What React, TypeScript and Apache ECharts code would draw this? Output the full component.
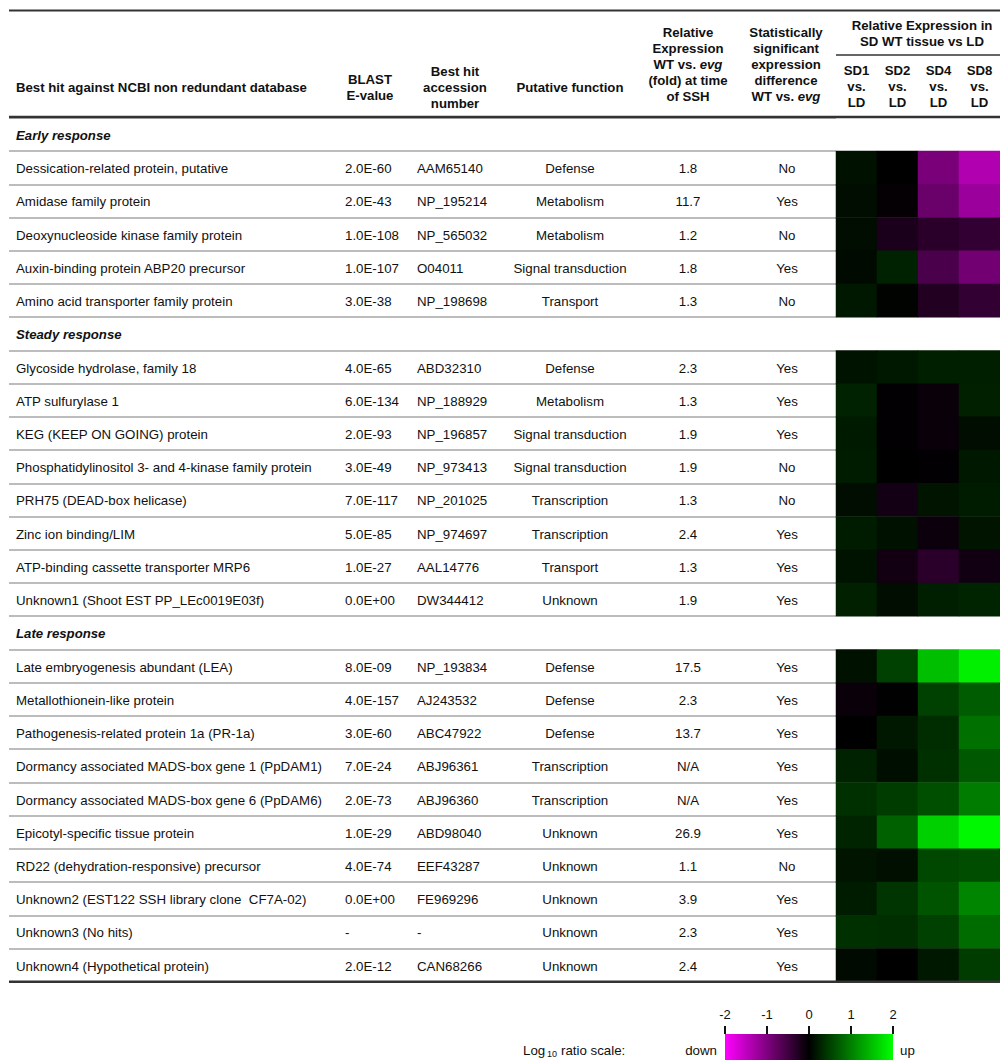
import React, { useEffect, useRef } from 'react';
import * as echarts from 'echarts';

// ---- table content ----
const sectionTitles = ['Early response', 'Steady response', 'Late response'];
const sectionSizes = [5, 8, 10];

const geneNames = [
  'Dessication-related protein, putative',
  'Amidase family protein',
  'Deoxynucleoside kinase family protein',
  'Auxin-binding protein ABP20 precursor',
  'Amino acid transporter family protein',
  'Glycoside hydrolase, family 18',
  'ATP sulfurylase 1',
  'KEG (KEEP ON GOING) protein',
  'Phosphatidylinositol 3- and 4-kinase family protein',
  'PRH75 (DEAD-box helicase)',
  'Zinc ion binding/LIM',
  'ATP-binding cassette transporter MRP6',
  'Unknown1 (Shoot EST PP_LEc0019E03f)',
  'Late embryogenesis abundant (LEA)',
  'Metallothionein-like protein',
  'Pathogenesis-related protein 1a (PR-1a)',
  'Dormancy associated MADS-box gene 1 (PpDAM1)',
  'Dormancy associated MADS-box gene 6 (PpDAM6)',
  'Epicotyl-specific tissue protein',
  'RD22 (dehydration-responsive) precursor',
  'Unknown2 (EST122 SSH library clone  CF7A-02)',
  'Unknown3 (No hits)',
  'Unknown4 (Hypothetical protein)',
];

const blastEValues = [
  '2.0E-60', '2.0E-43', '1.0E-108', '1.0E-107', '3.0E-38',
  '4.0E-65', '6.0E-134', '2.0E-93', '3.0E-49', '7.0E-117', '5.0E-85', '1.0E-27', '0.0E+00',
  '8.0E-09', '4.0E-157', '3.0E-60', '7.0E-24', '2.0E-73', '1.0E-29', '4.0E-74', '0.0E+00', '-', '2.0E-12',
];

const accessions = [
  'AAM65140', 'NP_195214', 'NP_565032', 'O04011', 'NP_198698',
  'ABD32310', 'NP_188929', 'NP_196857', 'NP_973413', 'NP_201025', 'NP_974697', 'AAL14776', 'DW344412',
  'NP_193834', 'AJ243532', 'ABC47922', 'ABJ96361', 'ABJ96360', 'ABD98040', 'EEF43287', 'FE969296', '-', 'CAN68266',
];

const putativeFunctions = [
  'Defense', 'Metabolism', 'Metabolism', 'Signal transduction', 'Transport',
  'Defense', 'Metabolism', 'Signal transduction', 'Signal transduction', 'Transcription', 'Transcription', 'Transport', 'Unknown',
  'Defense', 'Defense', 'Defense', 'Transcription', 'Transcription', 'Unknown', 'Unknown', 'Unknown', 'Unknown', 'Unknown',
];

const foldChanges = [
  '1.8', '11.7', '1.2', '1.8', '1.3',
  '2.3', '1.3', '1.9', '1.9', '1.3', '2.4', '1.3', '1.9',
  '17.5', '2.3', '13.7', 'N/A', 'N/A', '26.9', '1.1', '3.9', '2.3', '2.4',
];

const significance = [
  'No', 'Yes', 'No', 'Yes', 'No',
  'Yes', 'Yes', 'Yes', 'No', 'No', 'Yes', 'Yes', 'Yes',
  'Yes', 'Yes', 'Yes', 'Yes', 'Yes', 'Yes', 'No', 'Yes', 'Yes', 'Yes',
];

// ---- log10 expression ratios, SD vs LD ----
const sdColumns = ['SD1', 'SD2', 'SD4', 'SD8'];
const sd1Values = [0.13, 0.1, 0.1, 0.08, 0.19, 0.14, 0.27, 0.2, 0.22, 0.1, 0.22, 0.15, 0.25, 0.13, -0.08, 0, 0.27, 0.38, 0.28, 0.16, 0.22, 0.38, 0.08];
const sd2Values = [0, -0.03, -0.2, 0.27, 0.02, 0.19, -0.02, -0.02, 0, -0.16, 0.13, -0.14, 0.1, 0.5, 0.01, 0.19, 0.11, 0.47, 0.76, 0.12, 0.41, 0.36, 0];
const sd4Values = [-0.96, -0.83, -0.33, -0.58, -0.27, 0.24, -0.08, -0.08, -0.02, 0.16, -0.09, -0.33, 0.24, 1.5, 0.5, 0.35, 0.38, 0.61, 1.63, 0.56, 0.66, 0.5, 0.19];
const sd8Values = [-1.38, -1.22, -0.39, -0.9, -0.4, 0.24, 0.25, 0.1, 0.19, 0.22, 0.16, -0.13, 0.28, 1.88, 0.72, 0.88, 0.69, 0.97, 1.95, 0.6, 1.04, 0.85, 0.47];

const scaleTicks = [-2, 2];
const scaleColors = ['#ff00ff', '#000000', '#00ff00'];

// ---- layout ----
const FAMILY = '"Liberation Sans", Arial, Helvetica, sans-serif';
const INK = '#111111';
const TABLE_LEFT = 9;
const TABLE_RIGHT = 1000;
const TABLE_TOP = 117.8;
const ROW_H = 33.23;
const HEAT_LEFT = 836;
const HEAT_CELL = 42.75;
const BODY = 13.3;
const HEAD = 13.2;
const HEAD_LH = 16;

type Row = { kind: 'section'; label: string } | { kind: 'gene'; gene: number };

const rows: Row[] = [];
{
  let g = 0;
  sectionTitles.forEach((title, s) => {
    rows.push({ kind: 'section', label: title });
    for (let k = 0; k < sectionSizes[s]; k++) rows.push({ kind: 'gene', gene: g++ });
  });
}
const rowKeys = rows.map((r) => (r.kind === 'section' ? r.label : geneNames[r.gene]));

function font(size: number, weight = 'normal', style = 'normal') {
  return `${style} ${weight} ${size}px ${FAMILY}`;
}

function text(x: number, y: number, content: string, f: string, align = 'left', extra: any = {}) {
  return {
    type: 'text',
    x,
    y,
    silent: true,
    z: 10,
    style: {
      text: content,
      font: f,
      fill: INK,
      textAlign: align,
      align,
      textVerticalAlign: 'middle',
      verticalAlign: 'middle',
      ...extra,
    },
  };
}

function richLine(x: number, y: number, content: string, align = 'center') {
  return text(x, y, content, font(HEAD, 'bold'), align, {
    rich: {
      b: { fontFamily: FAMILY, fontSize: HEAD, fontWeight: 'bold', fill: INK },
      i: { fontFamily: FAMILY, fontSize: HEAD, fontWeight: 'bold', fontStyle: 'italic', fill: INK },
    },
  });
}

function headerBlock(cx: number, cy: number, lines: string[], align = 'center') {
  const n = lines.length;
  return lines.map((ln, i) => {
    const y = cy + (i - (n - 1) / 2) * HEAD_LH;
    return ln.includes('{') ? richLine(cx, y, ln, align) : text(cx, y, ln, font(HEAD, 'bold'), align);
  });
}

function hline(x1: number, x2: number, y: number, width: number, color = '#333333') {
  return {
    type: 'line',
    silent: true,
    z: 20,
    shape: { x1, y1: y, x2, y2: y },
    style: { stroke: color, lineWidth: width },
  };
}

export default function App() {
  const ref = useRef<HTMLDivElement>(null);

  useEffect(() => {
    if (!ref.current) return;
    const chart = echarts.init(ref.current, undefined, { renderer: 'svg' });

    const sdSeries = [sd1Values, sd2Values, sd4Values, sd8Values];
    const heatData: number[][] = [];
    rows.forEach((r, yi) => {
      if (r.kind === 'gene') sdSeries.forEach((vals, xi) => heatData.push([xi, yi, vals[r.gene]]));
    });

    const elements: any[] = [];

    // rules of the table
    elements.push(hline(TABLE_LEFT, TABLE_RIGHT, 10.5, 2));
    elements.push(hline(HEAT_LEFT, TABLE_RIGHT, 55, 1.5));
    elements.push(hline(TABLE_LEFT, TABLE_RIGHT, TABLE_TOP - 0.8, 2.5));
    elements.push(hline(TABLE_LEFT, TABLE_RIGHT, TABLE_TOP + ROW_H * rows.length, 2.5));

    // column headers
    elements.push(text(16, 87, 'Best hit against NCBI non redundant database', font(HEAD, 'bold')));
    elements.push(...headerBlock(370, 87, ['BLAST', 'E-value']));
    elements.push(...headerBlock(455, 87, ['Best hit', 'accession', 'number']));
    elements.push(...headerBlock(570, 87, ['Putative function']));
    elements.push(
      ...headerBlock(688, 64, ['Relative', 'Expression', '{b|WT vs. }{i|evg}', '(fold) at time', 'of SSH'])
    );
    elements.push(
      ...headerBlock(786, 64, ['Statistically', 'significant', 'expression', 'difference', '{b|WT vs. }{i|evg}'])
    );
    elements.push(...headerBlock(922, 33, ['Relative Expression in', 'SD WT tissue vs LD']));

    // body rows
    rows.forEach((r, yi) => {
      const cy = TABLE_TOP + (yi + 0.5) * ROW_H + 1;
      if (r.kind === 'section') {
        elements.push(text(16, cy, r.label, font(HEAD, 'bold', 'italic')));
      } else {
        const g = r.gene;
        elements.push(text(16, cy, geneNames[g], font(BODY)));
        elements.push(text(345, cy, blastEValues[g], font(BODY)));
        elements.push(text(417, cy, accessions[g], font(BODY)));
        elements.push(text(570, cy, putativeFunctions[g], font(BODY), 'center'));
        elements.push(text(688, cy, foldChanges[g], font(BODY), 'center'));
        elements.push(text(787, cy, significance[g], font(BODY), 'center'));
      }
    });

    // colour scale caption
    elements.push(text(523, 1050, 'Log', font(BODY)));
    elements.push(text(547, 1054, '10', font(9)));
    elements.push(text(561, 1050, 'ratio scale:', font(BODY)));
    elements.push(text(717, 1050, 'down', font(BODY), 'right'));
    elements.push(text(900, 1050, 'up', font(BODY)));

    const gradient = new echarts.graphic.LinearGradient(
      0,
      0,
      1,
      0,
      scaleColors.map((c, i) => ({ offset: i / (scaleColors.length - 1), color: c }))
    );

    const option: any = {
      animation: false,
      textStyle: { fontFamily: FAMILY },
      grid: [
        { left: HEAT_LEFT, top: TABLE_TOP, width: HEAT_CELL * sdColumns.length, height: ROW_H * rows.length },
        { left: TABLE_LEFT, top: TABLE_TOP, width: HEAT_LEFT - TABLE_LEFT, height: ROW_H * rows.length },
        { left: 725, top: 1034, width: 168, height: 32 },
      ],
      xAxis: [
        {
          gridIndex: 0,
          type: 'category',
          data: sdColumns,
          position: 'top',
          axisLine: { show: false },
          axisTick: { show: false },
          splitLine: { show: false },
          axisLabel: {
            interval: 0,
            margin: 7,
            formatter: (v: string) => `${v}\nvs.\nLD`,
            fontFamily: FAMILY,
            fontWeight: 'bold',
            fontSize: HEAD,
            lineHeight: HEAD_LH,
            color: INK,
          },
        },
        { gridIndex: 1, type: 'value', show: false },
        {
          gridIndex: 2,
          type: 'value',
          min: scaleTicks[0],
          max: scaleTicks[1],
          interval: 1,
          position: 'top',
          z: 10,
          axisLine: { show: true, onZero: false, lineStyle: { color: 'rgba(0,0,0,0)', width: 0 } },
          axisTick: { show: true, inside: false, length: 8, lineStyle: { color: INK, width: 2 } },
          splitLine: { show: false },
          axisLabel: { margin: 13, fontSize: 13, color: INK, fontFamily: FAMILY },
        },
      ],
      yAxis: [
        { gridIndex: 0, type: 'category', data: rowKeys, inverse: true, show: false },
        {
          gridIndex: 1,
          type: 'category',
          data: rowKeys,
          inverse: true,
          axisLine: { show: false },
          axisTick: { show: false },
          axisLabel: { show: false },
          splitLine: { show: true, interval: 0, lineStyle: { color: '#a6a6a6', width: 1.6 } },
        },
        { gridIndex: 2, type: 'value', min: 0, max: 1, show: false },
      ],
      visualMap: {
        show: false,
        type: 'continuous',
        min: scaleTicks[0],
        max: scaleTicks[1],
        dimension: 2,
        seriesIndex: 0,
        inRange: { color: scaleColors },
      },
      series: [
        {
          type: 'heatmap',
          xAxisIndex: 0,
          yAxisIndex: 0,
          data: heatData,
          itemStyle: { borderWidth: 0 },
          emphasis: { disabled: true },
          silent: true,
        },
        {
          type: 'custom',
          xAxisIndex: 2,
          yAxisIndex: 2,
          silent: true,
          data: [[scaleTicks[0], 0, scaleTicks[1], 1]],
          encode: { x: [0, 2], y: [1, 3] },
          renderItem: (_p: any, api: any) => {
            const a = api.coord([api.value(0), api.value(3)]);
            const b = api.coord([api.value(2), api.value(1)]);
            return {
              type: 'rect',
              shape: { x: a[0], y: a[1], width: b[0] - a[0], height: b[1] - a[1] },
              style: { fill: gradient },
            };
          },
        },
      ],
      graphic: { elements },
    };

    chart.setOption(option);
    return () => chart.dispose();
  }, []);

  return (
    <div
      ref={ref}
      style={{ position: 'absolute', left: 0, top: 0, width: 1000, height: 1060, background: '#ffffff' }}
    />
  );
}
